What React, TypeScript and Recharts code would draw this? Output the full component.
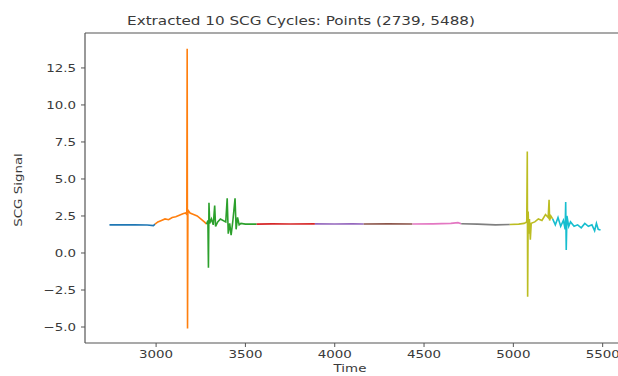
import React from 'react';
import { LineChart, Line, XAxis, YAxis, Label, ReferenceLine } from 'recharts';

// one segment per extracted cycle: [time, signal]
const cycle1 = [[2739, 1.9], [2800, 1.9], [2880, 1.9], [2950, 1.89], [2985, 1.85], [2994, 1.95]];
const cycle2 = [
  [2994, 1.95], [3010, 2.1], [3030, 2.2], [3050, 2.3], [3070, 2.25], [3090, 2.4], [3110, 2.45],
  [3130, 2.55], [3150, 2.65], [3165, 2.7], [3172, 2.6], [3174, 13.8], [3176, -5.1], [3178, 2.9],
  [3190, 2.7], [3210, 2.6], [3230, 2.5], [3250, 2.3], [3270, 2.1], [3283, 1.95],
];
const cycle3 = [
  [3283, 1.95], [3290, 2.2], [3293, -1.0], [3296, 3.4], [3300, 2.0], [3310, 2.3], [3320, 1.9],
  [3328, 3.2], [3333, 1.8], [3345, 2.1], [3360, 2.3], [3390, 2.1], [3398, 3.7], [3404, 1.3],
  [3412, 2.0], [3420, 1.2], [3430, 2.2], [3442, 3.7], [3448, 1.6], [3456, 2.4], [3465, 1.9],
  [3475, 2.0], [3500, 1.95], [3563, 1.95],
];
const cycle4 = [[3563, 1.95], [3650, 1.97], [3750, 1.96], [3889, 1.97]];
const cycle5 = [[3889, 1.97], [4000, 1.96], [4100, 1.97], [4162, 1.96]];
const cycle6 = [[4162, 1.96], [4300, 1.97], [4435, 1.96]];
const cycle7 = [[4435, 1.96], [4550, 1.97], [4650, 2.0], [4690, 2.05], [4708, 1.98]];
const cycle8 = [[4708, 1.98], [4800, 1.95], [4900, 1.9], [4980, 1.92]];
const cycle9 = [
  [4980, 1.92], [5030, 1.95], [5060, 2.0], [5075, 2.1], [5078, 6.85], [5080, -2.95], [5083, 2.8],
  [5086, 1.3], [5090, 2.3], [5095, 0.9], [5100, 2.0], [5120, 2.1], [5140, 2.3], [5160, 2.2],
  [5180, 2.6], [5195, 2.4], [5200, 3.6], [5203, 2.2], [5210, 2.5], [5220, 2.3],
];
const cycle10 = [
  [5220, 2.3], [5235, 1.9], [5250, 2.4], [5265, 1.8], [5280, 2.2], [5290, 1.6], [5293, 3.45],
  [5296, 0.2], [5300, 2.5], [5310, 1.8], [5320, 2.1], [5340, 1.8], [5360, 1.9], [5380, 1.7],
  [5400, 2.0], [5420, 1.8], [5440, 1.9], [5455, 1.5], [5465, 2.0], [5475, 1.6], [5488, 1.55],
];

const cycles = [cycle1, cycle2, cycle3, cycle4, cycle5, cycle6, cycle7, cycle8, cycle9, cycle10];
const colors = ['#1f77b4', '#ff7f0e', '#2ca02c', '#d62728', '#9467bd', '#8c564b', '#e377c2', '#7f7f7f', '#bcbd22', '#17becf'];

const xTicks = [3000, 3500, 4000, 4500, 5000, 5500];
const yTicks = [-5, -2.5, 0, 2.5, 5, 7.5, 10, 12.5];
const xDomain = [2602, 5625];
const yDomain = [-6.08, 14.86];

const FONT = '"DejaVu Sans", sans-serif';
const TEXT = '#3a3a3a';
const AXIS = { stroke: '#555', strokeWidth: 1.2 };

const fmtY = (v: number) => (v < 0 ? '\u2212' + Math.abs(v).toFixed(1) : v.toFixed(1));

// matplotlib text looks squashed vertically in the source image
const XTick = ({ x, y, payload }: any) => (
  <g transform={`translate(${x},${y})`}>
    <text transform="scale(1,0.8)" dy="0.71em" textAnchor="middle" fontSize={13.4} fontFamily={FONT} fill={TEXT}>
      {payload.value}
    </text>
  </g>
);

const YTick = ({ x, y, payload }: any) => (
  <g transform={`translate(${x},${y})`}>
    <text transform="scale(1,0.8)" dy="0.36em" textAnchor="end" fontSize={13.4} fontFamily={FONT} fill={TEXT}>
      {fmtY(payload.value)}
    </text>
  </g>
);

export default function App() {
  return (
    <div style={{ position: 'absolute', left: 0, top: 0, width: 618, height: 376, overflow: 'hidden', background: '#fff' }}>
      <div
        style={{
          position: 'absolute', left: 301, top: 12, transform: 'translateX(-50%) scaleY(0.8)',
          fontFamily: FONT, fontSize: 15.2, color: TEXT, whiteSpace: 'nowrap', lineHeight: '18px',
        }}
      >
        Extracted 10 SCG Cycles: Points (2739, 5488)
      </div>
      <LineChart width={640} height={376} margin={{ top: 33, right: 15, bottom: 0, left: 0 }}>
        <XAxis
          type="number"
          dataKey="t"
          domain={xDomain}
          ticks={xTicks}
          allowDataOverflow
          height={33}
          tickSize={4}
          tickMargin={3}
          tick={<XTick />}
          axisLine={AXIS}
          tickLine={{ stroke: '#555' }}
        >
          <Label
            content={() => (
              <text x={350} y={372} transform="translate(0,74.4) scale(1,0.8)" textAnchor="middle" fontSize={13.4} fontFamily={FONT} fill={TEXT}>
                Time
              </text>
            )}
          />
        </XAxis>
        <YAxis
          type="number"
          domain={yDomain}
          ticks={yTicks}
          allowDataOverflow
          width={85}
          tickSize={4}
          tickMargin={5}
          tick={<YTick />}
          axisLine={AXIS}
          tickLine={{ stroke: '#555' }}
        >
          <Label
            content={() => (
              <text x={0} y={0} transform="translate(22,190) rotate(-90) scale(1,0.8)" textAnchor="middle" fontSize={13.4} fontFamily={FONT} fill={TEXT}>
                SCG Signal
              </text>
            )}
          />
        </YAxis>
        {/* top spine of the axes box */}
        <ReferenceLine y={yDomain[1]} stroke="#555" strokeWidth={1.2} ifOverflow="visible" />
        {cycles.map((c, i) => (
          <Line
            key={i}
            data={c.map(([t, v]) => ({ t, v }))}
            dataKey="v"
            type="linear"
            stroke={colors[i]}
            strokeWidth={1.6}
            dot={false}
            activeDot={false}
            isAnimationActive={false}
          />
        ))}
      </LineChart>
    </div>
  );
}
